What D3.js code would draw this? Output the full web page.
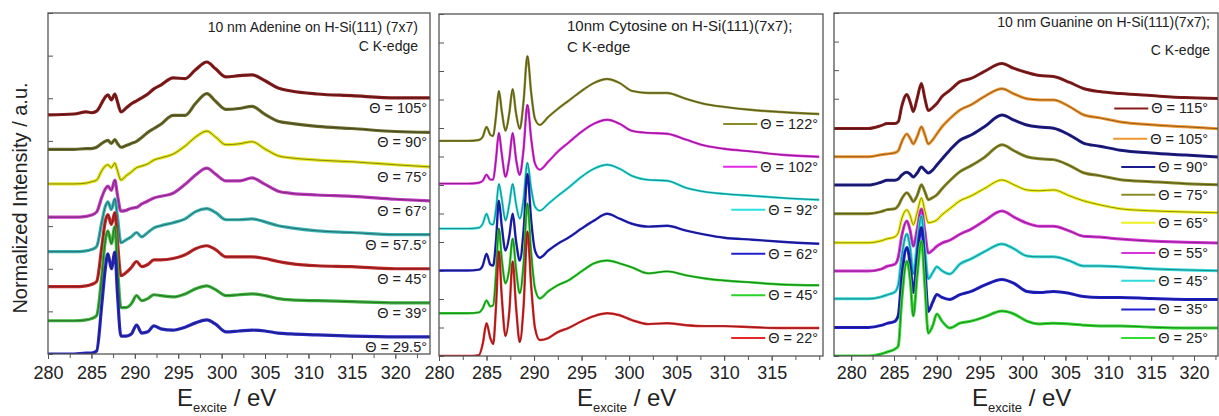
<!DOCTYPE html>
<html lang="en">
<head>
<meta charset="UTF-8">
<title>C K-edge NEXAFS of nucleobases on H-Si(111)</title>
<script src="https://d3js.org/d3.v7.min.js"></script>
<style>
  body { margin: 0; background: #fff; }
  svg text { font-family: "Liberation Sans", Arial, sans-serif; fill: #222; }
</style>
</head>
<body>
<svg id="chart" width="1219" height="416"></svg>
<script>
// ---------- Adenine (panel 1) ----------
const adenineE = [280, 283, 284.4, 285, 285.6, 286.2, 286.6, 286.9, 287.3, 287.7, 288.0, 288.4, 289.0, 289.6, 290.2,
  290.8, 291.5, 292.2, 293, 294.4, 295.8, 297, 298.3, 299.3, 300.5, 302, 303.5, 305, 306.5, 308, 311, 315, 320, 324];
const adenineAngles = ["105", "90", "75", "67", "57.5", "45", "39", "29.5"];
const adenineOffsets = [5.61, 4.80, 3.99, 3.21, 2.40, 1.58, 0.78, 0];
const adenine105 = [0,0.02,0.07,0.05,0.09, 0.28,0.42,0.47,0.35,0.49, 0.31,0.07,0.16,0.26,0.33, 0.40,0.49,0.61,0.70,0.87, 0.85,1.06,1.24,1.08,0.89, 0.92,0.94,0.80,0.63,0.56, 0.49,0.45,0.40,0.40];
const adenine90 = [0,0,0.02,0.02,0.05, 0.14,0.19,0.21,0.14,0.23, 0.14,0.05,0.09,0.14,0.19, 0.28,0.40,0.49,0.59,0.80, 0.80,1.08,1.31,1.13,0.94, 0.96,1.01,0.82,0.66,0.61, 0.54,0.49,0.42,0.40];
const adenine75 = [0,0,0.02,0.05,0.09, 0.31,0.42,0.45,0.38,0.49, 0.31,0.09,0.19,0.28,0.38, 0.42,0.47,0.56,0.61,0.70, 0.89,1.10,1.24,1.10,0.92, 0.94,0.99,0.82,0.66,0.61, 0.56,0.52,0.45,0.40];
const adenine67 = [0,0,0.02,0.05,0.12, 0.47,0.66,0.73,0.63,0.87, 0.52,0.14,0.16,0.21,0.23, 0.31,0.38,0.45,0.49,0.56, 0.77,0.99,1.15,1.01,0.85, 0.85,0.92,0.77,0.61,0.56, 0.52,0.49,0.42,0.38];
const adenine575 = [0,0,0.02,0.05,0.12, 0.70,1.06,1.17,0.99,1.24, 0.82,0.21,0.28,0.35,0.45, 0.35,0.45,0.56,0.61,0.68, 0.77,0.94,1.01,0.92,0.75, 0.75,0.77,0.70,0.61,0.56, 0.49,0.45,0.40,0.40];
const adenine45 = [0,0,0.02,0.05,0.12, 0.94,1.53,1.69,1.46,1.74, 1.06,0.26,0.33,0.45,0.59, 0.47,0.52,0.63,0.63,0.66, 0.75,0.89,0.96,0.87,0.70, 0.70,0.70,0.66,0.59,0.54, 0.49,0.47,0.42,0.42];
const adenine39 = [0,0,0.02,0.05,0.12, 1.06,1.88,2.11,1.81,2.21, 1.29,0.31,0.31,0.40,0.59, 0.47,0.52,0.61,0.59,0.56, 0.63,0.75,0.82,0.73,0.59, 0.61,0.63,0.59,0.52,0.49, 0.47,0.45,0.42,0.42];
const adenine295 = [0,0,0.02,0.02,0.07, 1.17,2.0,2.35,2.0,2.39, 1.41,0.42,0.42,0.47,0.68, 0.49,0.52,0.66,0.59,0.56, 0.63,0.73,0.80,0.70,0.52, 0.54,0.56,0.54,0.49,0.47, 0.45,0.42,0.40,0.40];

// ---------- Cytosine (panel 2) ----------
const cytosineE = [280, 283, 284.2, 284.6, 285.0, 285.4, 285.7, 286.0, 286.3, 286.6, 287.0, 287.4, 287.75, 288.1, 288.5,
  288.9, 289.3, 289.7, 290.1, 290.6, 291.5, 292.5, 293.6, 295, 296.3, 297.7, 299, 300.3, 302, 304, 306, 308, 310, 313, 316, 320];
const cytosineAngles = ["122", "102", "92", "62", "45", "22"];
const cytosineOffsets = [7.55, 6.05, 4.47, 3.0, 1.5, 0];
const cytosine122 = [0,0,0.03,0.14,0.49, 0.21,0.17,0.87,1.75,1.05, 0.35,0.98,1.82,0.98,0.42, 1.40,2.97,1.68,0.77,0.56, 0.84,1.12,1.40,1.75,2.03, 2.17,2.03,1.75,1.68,1.68, 1.47,1.29,1.19,1.08,1.01, 0.94];
const cytosine102 = [0,0,0.03,0.10,0.31, 0.14,0.14,0.87,1.78,1.05, 0.24,0.87,1.78,0.87,0.31, 1.22,2.76,1.57,0.70,0.49, 0.77,1.12,1.43,1.82,2.10, 2.24,2.10,1.85,1.78,1.75, 1.54,1.33,1.22,1.12,1.01, 0.94];
const cytosine92 = [0,0,0.03,0.17,0.52, 0.17,0.14,0.70,1.57,1.05, 0.28,0.87,1.57,0.87,0.35, 1.05,2.31,1.40,0.77,0.63, 0.87,1.15,1.43,1.82,2.10, 2.24,2.10,1.85,1.71,1.68, 1.43,1.29,1.22,1.15,1.08, 1.01];
const cytosine62 = [0,0,0.03,0.17,0.59, 0.21,0.17,1.05,2.45,1.57, 0.70,1.22,1.99,1.05,0.35, 1.40,3.39,1.75,0.70,0.45, 0.70,0.94,1.15,1.47,1.75, 1.99,1.82,1.64,1.54,1.57, 1.40,1.26,1.15,1.08,1.01, 0.94];
const cytosine45 = [0,0,0.03,0.17,0.45, 0.24,0.28,1.40,2.97,1.92, 1.05,1.57,2.62,1.57,0.70, 1.75,3.85,2.10,0.87,0.52, 0.77,0.98,1.15,1.47,1.75, 1.85,1.75,1.61,1.40,1.47, 1.33,1.22,1.15,1.08,1.01, 0.98];
const cytosine22 = [0,0,0.03,0.42,1.15, 0.63,0.42,1.75,3.67,2.10, 0.70,1.57,3.32,1.75,0.49, 1.75,4.37,2.45,0.98,0.56, 0.63,0.84,0.98,1.22,1.40, 1.50,1.43,1.26,1.12,1.15, 1.08,1.05,1.05,1.01,0.98, 0.98];

// ---------- Guanine (panel 3) ----------
const guanineE = [278, 282, 283.5, 284.2, 285.1, 285.5, 285.9, 286.5, 286.9, 287.25, 287.7, 288.2, 288.6, 289.0, 289.5,
  290.0, 290.6, 291.5, 292.7, 294, 295.5, 297.6, 299, 300.5, 302, 303.6, 305.5, 307.1, 309, 311.4, 315, 319, 323];
const guanineAngles = ["115", "105", "90", "75", "65", "55", "45", "35", "25"];
const guanineOffsets = [7.96, 6.97, 5.98, 4.98, 3.96, 2.97, 2.0, 1.0, 0];
const guanine115 = [0,0,0.10,0.17,0.17, 0.24,0.77,1.19,0.91,0.59, 1.05,1.57,1.05,0.63,0.73, 0.87,1.12,1.33,1.64,1.75, 1.99,2.27,2.10,1.96,1.85, 1.82,1.61,1.40,1.29,1.22, 1.15,1.08,1.05];
const guanine105 = [0,0,0.07,0.10,0.14, 0.21,0.52,0.80,0.63,0.45, 0.70,1.05,0.77,0.45,0.59, 0.80,1.05,1.33,1.64,1.82, 2.10,2.38,2.20,2.03,1.99, 1.99,1.75,1.47,1.36,1.22, 1.12,1.05,0.98];
const guanine90 = [0,0,0.10,0.17,0.17, 0.21,0.35,0.45,0.38,0.28, 0.42,0.63,0.52,0.42,0.52, 0.70,0.91,1.22,1.57,1.75, 2.03,2.45,2.27,2.10,2.03, 1.99,1.75,1.47,1.36,1.22, 1.12,1.05,0.98];
const guanine75 = [0,0,0.07,0.14,0.17, 0.28,0.52,0.73,0.59,0.42, 0.63,1.01,0.77,0.49,0.56, 0.66,0.87,1.15,1.47,1.68, 1.96,2.41,2.20,1.99,1.92, 1.89,1.68,1.43,1.33,1.19, 1.12,1.05,1.01];
const guanine65 = [0,0,0.07,0.14,0.21, 0.35,0.84,1.15,0.94,0.63, 1.05,1.57,1.12,0.70,0.73, 0.80,0.98,1.19,1.47,1.64, 1.89,2.20,2.03,1.85,1.82, 1.85,1.64,1.47,1.33,1.19, 1.12,1.08,1.05];
const guanine55 = [0,0,0.07,0.17,0.24, 0.49,1.22,1.75,1.40,0.87, 1.47,2.17,1.40,0.63,0.73, 0.87,0.98,1.08,1.29,1.47, 1.75,2.10,1.89,1.68,1.57, 1.57,1.40,1.22,1.19,1.12, 1.05,1.01,0.98];
const guanine45 = [0,0,0.07,0.14,0.24, 0.49,1.47,2.27,1.75,0.87, 1.92,2.90,1.75,0.70,0.91, 1.12,0.98,0.87,1.22,1.40, 1.64,1.92,1.75,1.50,1.47, 1.47,1.33,1.15,1.15,1.12, 1.05,1.01,0.98];
const guanine35 = [0,0,0.07,0.14,0.21, 0.42,1.75,2.80,2.17,1.22, 2.45,3.50,2.10,0.56,0.87, 1.15,1.05,0.98,1.15,1.26, 1.47,1.68,1.54,1.26,1.22, 1.26,1.19,1.08,1.05,1.05, 1.01,0.98,0.98];
const guanine25 = [0,0,0.07,0.14,0.24, 0.35,1.92,3.32,2.62,1.40, 2.80,4.02,2.45,0.80,1.05, 1.47,1.22,0.98,1.15,1.22, 1.36,1.57,1.47,1.22,1.12, 1.15,1.12,1.08,1.05,1.05, 1.01,0.98,0.98];

// colours (style only)
const adenineColors = ["#8b1c1c", "#6e6e2c", "#e4e41c", "#c43cc4", "#3cb4b4", "#c82828", "#3cb43c", "#2828c8"];
const cytosineColors = ["#8c8c2a", "#e22ae2", "#2ae0e0", "#2020c8", "#2ad22a", "#e42828"];
const guanineColors = ["#8b1c1c", "#f0962e", "#1c1c8c", "#8c8c2a", "#f0f01e", "#dc32dc", "#32dcdc", "#2020d2", "#32dc32"];

const svg = d3.select("#chart");

const panels = [
  {
    id: "ade", left: 48, right: 430, top: 13, bottom: 354,
    xDomain: [280, 324], yDomain: [0, 8], labels: d3.range(280, 321, 5),
    E: adenineE, angles: adenineAngles, offsets: adenineOffsets, colors: adenineColors,
    values: [adenine105, adenine90, adenine75, adenine67, adenine575, adenine45, adenine39, adenine295],
    legend: "text", labelX: 427, tickPad: 7, lineW: 3.2,
    title: ["10 nm Adenine on H-Si(111) (7x7)", "C K-edge"], titleX: 418, titleAnchor: "end", titleY: [32, 51], titleSize: 14,
    xTitleX: 177, xTitleY: 406
  },
  {
    id: "cyt", left: 439, right: 823, top: 14, bottom: 356,
    xDomain: [280, 320.4], yDomain: [0, 12], labels: d3.range(280, 316, 5),
    E: cytosineE, angles: cytosineAngles, offsets: cytosineOffsets, colors: cytosineColors,
    values: [cytosine122, cytosine102, cytosine92, cytosine62, cytosine45, cytosine22],
    legend: "line", labelX: 818, tickPad: 5, lineW: 2.4,
    title: ["10nm Cytosine on H-Si(111)(7x7);", "C K-edge"], titleX: 567, titleAnchor: "start", titleY: [31, 52], titleSize: 15,
    xTitleX: 577, xTitleY: 406
  },
  {
    id: "gua", left: 834, right: 1218, top: 13, bottom: 356,
    xDomain: [278, 322.8], yDomain: [0, 12], labels: d3.range(280, 321, 5),
    E: guanineE, angles: guanineAngles, offsets: guanineOffsets, colors: guanineColors,
    values: [guanine115, guanine105, guanine90, guanine75, guanine65, guanine55, guanine45, guanine35, guanine25],
    legend: "line", labelX: 1208, tickPad: 5, lineW: 3,
    title: ["10 nm Guanine on H-Si(111)(7x7);", "C K-edge"], titleX: 1210, titleAnchor: "end", titleY: [27, 55], titleSize: 14,
    xTitleX: 972, xTitleY: 406
  }
];

panels.forEach(function(p) {
  const x = d3.scaleLinear().domain(p.xDomain).range([p.left, p.right]);
  const y = d3.scaleLinear().domain(p.yDomain).range([p.bottom, p.top]);

  svg.append("clipPath").attr("id", "clip-" + p.id)
    .append("rect")
    .attr("x", p.left).attr("y", p.top)
    .attr("width", p.right - p.left).attr("height", p.bottom - p.top);

  // x axis: major labelled ticks and minor ticks every 2.5 eV
  const minor = d3.range(Math.ceil(p.xDomain[0] / 2.5) * 2.5, p.xDomain[1] + 0.01, 2.5);
  svg.append("g")
    .attr("transform", `translate(0, ${p.bottom})`)
    .call(d3.axisBottom(x).tickValues(minor).tickSize(4).tickFormat(""))
    .call(g => g.select(".domain").remove())
    .call(g => g.selectAll("line").attr("stroke", "#555"));

  svg.append("g")
    .attr("transform", `translate(0, ${p.bottom})`)
    .call(d3.axisBottom(x).tickValues(p.labels).tickSize(5).tickPadding(p.tickPad).tickFormat(d3.format("d")))
    .call(g => g.select(".domain").remove())
    .call(g => g.selectAll("line").attr("stroke", "#555"))
    .call(g => g.selectAll("text").attr("font-size", 18).attr("fill", "#222")
      .attr("font-family", "'Liberation Sans', Arial, sans-serif"));

  // y axis: unlabelled inward ticks
  svg.append("g")
    .attr("transform", `translate(${p.left}, 0)`)
    .call(d3.axisLeft(y).ticks(p.yDomain[1]).tickSize(-5).tickFormat(""))
    .call(g => g.select(".domain").remove())
    .call(g => g.selectAll("line").attr("stroke", "#555"));

  // curves
  const curves = svg.append("g").attr("clip-path", `url(#clip-${p.id})`);
  p.values.forEach(function(vals, k) {
    const off = p.offsets[k];
    const line = d3.line()
      .x((d, i) => x(p.E[i]))
      .y(d => y(off + d))
      .curve(d3.curveMonotoneX);
    curves.append("path")
      .attr("d", line(vals))
      .attr("fill", "none")
      .attr("stroke", p.colors[k])
      .attr("stroke-width", p.lineW)
      .attr("stroke-linejoin", "round");
    curves.append("path")
      .attr("d", line(vals))
      .attr("fill", "none")
      .attr("stroke", "#111")
      .attr("stroke-opacity", 0.55)
      .attr("stroke-width", 0.8);
  });

  // labels / legend under each curve tail
  p.values.forEach(function(vals, k) {
    const tailY = y(p.offsets[k] + vals[vals.length - 1]);
    const t = svg.append("text")
      .attr("x", p.labelX)
      .attr("y", tailY + 15)
      .attr("text-anchor", "end")
      .attr("font-size", 14.5)
      .text("\u0398 = " + p.angles[k] + "\u00b0");
    if (p.legend === "line") {
      const w = t.node().getComputedTextLength();
      const xEnd = p.labelX - w - 3;
      svg.append("line")
        .attr("x1", xEnd - 34).attr("x2", xEnd)
        .attr("y1", tailY + 10).attr("y2", tailY + 10)
        .attr("stroke", p.colors[k])
        .attr("stroke-width", 2);
    }
  });

  // frame
  svg.append("rect")
    .attr("x", p.left).attr("y", p.top)
    .attr("width", p.right - p.left).attr("height", p.bottom - p.top)
    .attr("fill", "none").attr("stroke", "#555").attr("stroke-width", 1.3);

  // panel title
  p.title.forEach(function(s, i) {
    svg.append("text")
      .attr("x", p.titleX).attr("y", p.titleY[i])
      .attr("text-anchor", p.titleAnchor)
      .attr("font-size", p.titleSize)
      .text(s);
  });

  // x axis title: E_excite / eV
  const xt = svg.append("text")
    .attr("x", p.xTitleX).attr("y", p.xTitleY)
    .attr("font-size", 24);
  xt.append("tspan").text("E");
  xt.append("tspan").attr("font-size", 13).attr("dy", 6).text("excite");
  xt.append("tspan").attr("dy", -6).text(" / eV");
});

// shared y title
svg.append("text")
  .attr("transform", "translate(27, 198) rotate(-90)")
  .attr("text-anchor", "middle")
  .attr("font-size", 20)
  .text("Normalized Intensity / a.u.");
</script>
</body>
</html>
